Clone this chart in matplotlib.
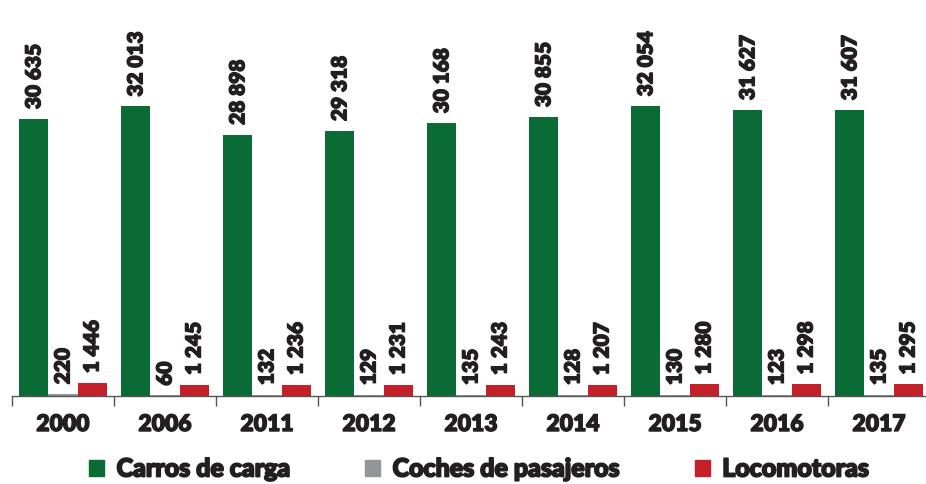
import matplotlib.pyplot as plt
import matplotlib.patheffects as pe
from matplotlib.patches import Patch
import numpy as np

# data
years = ['2000', '2006', '2011', '2012', '2013', '2014', '2015', '2016', '2017']
carros = [30635, 32013, 28898, 29318, 30168, 30855, 32054, 31627, 31607]
coches = [220, 60, 132, 129, 135, 128, 130, 123, 135]
locos = [1446, 1245, 1236, 1231, 1243, 1207, 1280, 1298, 1295]

series = [('Carros de carga', carros, '#0b6b35'),
          ('Coches de pasajeros', coches, '#939598'),
          ('Locomotoras', locos, '#c4202a')]

txt = '#231f20'
plt.rcParams['font.family'] = ['Lato', 'DejaVu Sans']
# a little stroke to get the heavy look of the original type
heavy = [pe.withStroke(linewidth=0.9, foreground=txt)]


def fmt(v):
    return f'{v:,}'.replace(',', ' ')


fig = plt.figure(figsize=(9.26, 4.84), dpi=100)
ax = fig.add_axes([12 / 926, 88 / 484, 918 / 926, 396 / 484])

x = np.arange(len(years))
w = 0.285
for i, (name, vals, col) in enumerate(series):
    pos = x + (i - 1) * w
    ax.bar(pos, vals, width=w, color=col, edgecolor='none')
    for p, v in zip(pos, vals):
        ax.annotate(fmt(v), (p, v), xytext=(0, 7), textcoords='offset points',
                    rotation=90, ha='center', va='bottom', fontsize=15,
                    fontweight='heavy', color=txt, path_effects=heavy)

ax.set_xlim(-0.5, len(years) - 0.5)
ax.set_ylim(0, 43770)
ax.set_yticks([])
ax.set_xticks(x)
ax.set_xticklabels(years, fontsize=16.5, fontweight='heavy', color=txt)
for t in ax.get_xticklabels():
    t.set_path_effects(heavy)
ax.tick_params(axis='x', which='major', length=0, pad=13)
ax.set_xticks(np.arange(-0.5, len(years)), minor=True)
ax.tick_params(axis='x', which='minor', length=7, width=1, color='#555555')
for s in ['top', 'right', 'left']:
    ax.spines[s].set_visible(False)
ax.spines['bottom'].set_color('#555555')
ax.spines['bottom'].set_linewidth(1)

handles = [Patch(color=c, label=n) for n, _, c in series]
leg = fig.legend(handles=handles, loc='center', bbox_to_anchor=(0.517, 15 / 484),
                 ncol=3, frameon=False, handlelength=0.6, handleheight=0.6,
                 columnspacing=3.0, handletextpad=0.5,
                 prop={'size': 18, 'weight': 'black'}, labelcolor=txt)
for t in leg.get_texts():
    t.set_path_effects([pe.withStroke(linewidth=1.3, foreground=txt)])

fig.savefig('out.png', dpi=100)
